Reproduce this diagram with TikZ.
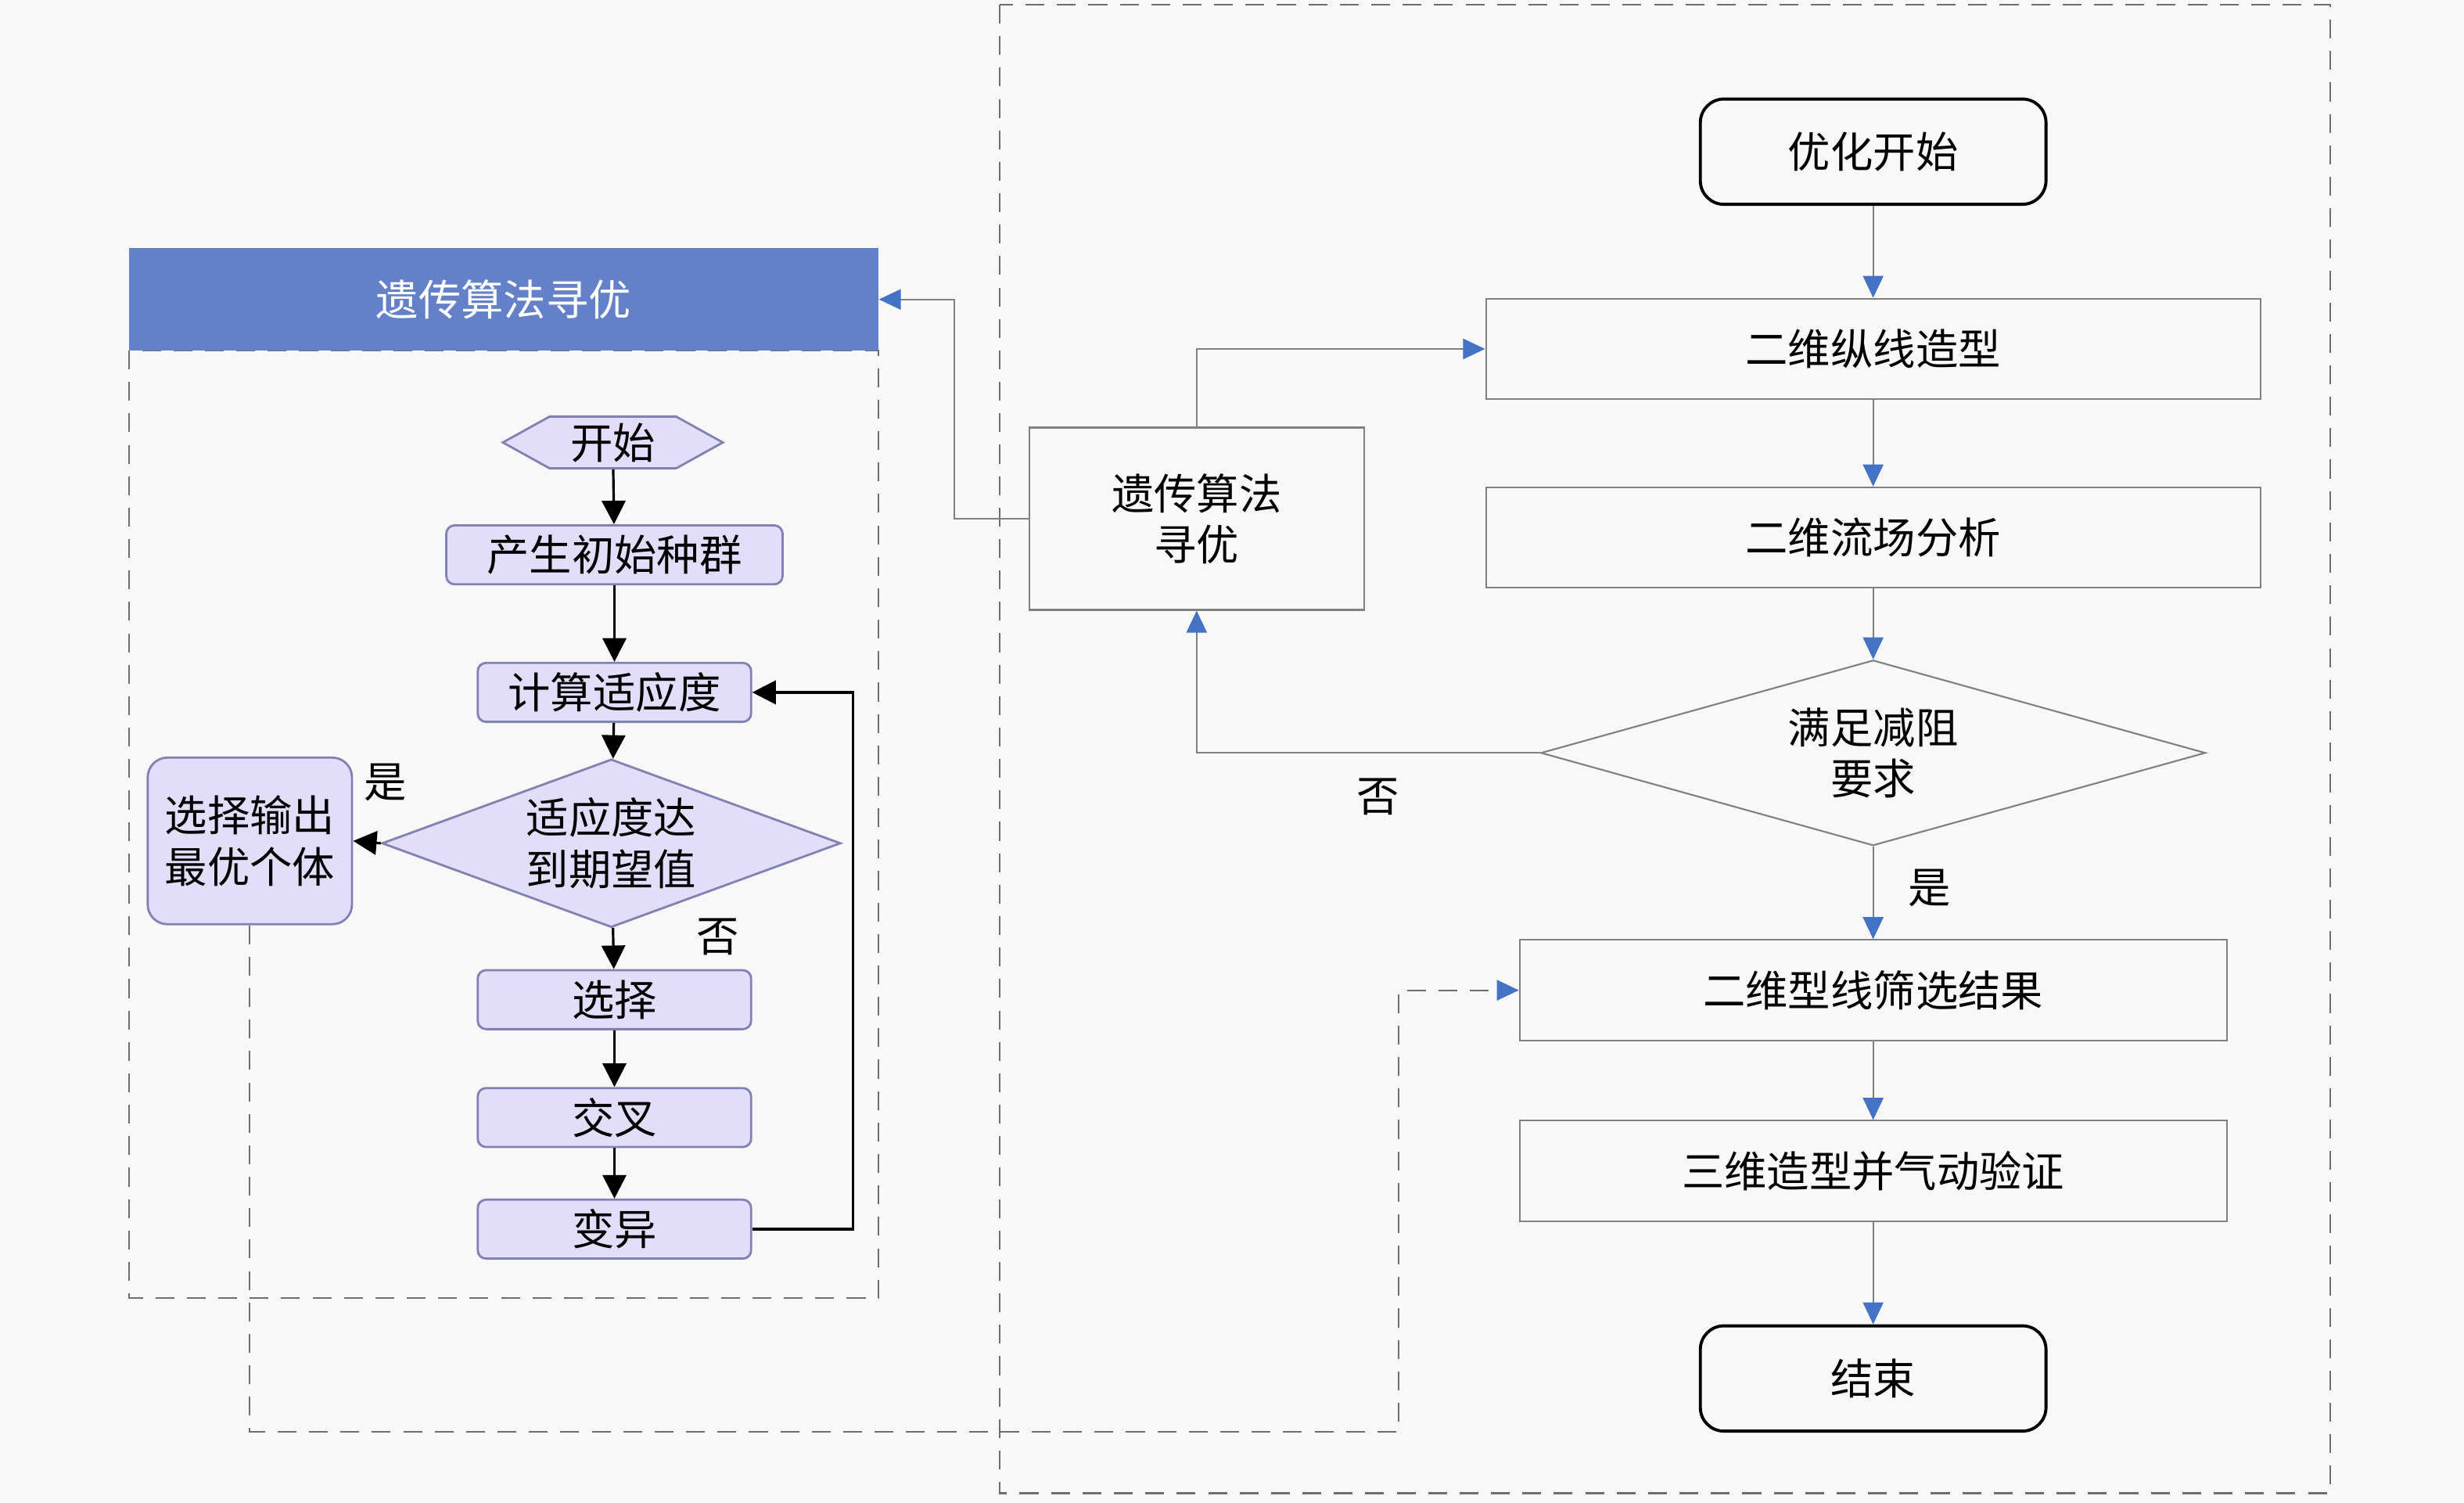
\documentclass[tikz,border=0pt]{standalone}
\usepackage{fontspec}
\setmainfont{Noto Sans CJK SC}
\usetikzlibrary{shapes.geometric,shapes.symbols,arrows.meta}
\definecolor{bgcol}{RGB}{248,248,248}
\definecolor{hdrblue}{RGB}{99,128,200}
\definecolor{lav}{RGB}{226,222,250}
\definecolor{lavline}{RGB}{130,130,178}
\definecolor{arrblue}{RGB}{68,114,196}
\definecolor{grayline}{RGB}{128,128,128}
\definecolor{dashgray}{RGB}{110,110,110}

\begin{document}
\begin{tikzpicture}[x=0.02cm,y=-0.02cm,
  font=\fontsize{15.4}{18.5}\selectfont,
  frame/.style={draw=dashgray,line width=0.6pt,dash pattern=on 0.24cm off 0.16cm},
  gabox/.style={draw=lavline,fill=lav,line width=0.8pt,rounded corners=3pt,inner sep=0pt,
    minimum width=3.48cm,minimum height=0.75cm},
  gadia/.style={draw=lavline,fill=lav,line width=0.8pt,shape=diamond,aspect=2.73,inner sep=0pt,align=center,
    minimum width=5.84cm,minimum height=2.14cm},
  flowbox/.style={draw=grayline,line width=0.6pt,inner sep=0pt,minimum width=9.86cm,minimum height=1.28cm},
  flowdia/.style={draw=grayline,line width=0.6pt,shape=diamond,aspect=3.58,inner sep=0pt,align=center,
    minimum width=8.46cm,minimum height=2.36cm},
  term/.style={draw=black,line width=1.1pt,rounded corners=0.3cm,inner sep=0pt,
    minimum width=4.4cm,minimum height=1.34cm},
  blk/.style={draw=black,line width=0.9pt,-{Triangle[length=0.3cm,width=0.3cm]}},
  bluearr/.style={draw=grayline,line width=0.6pt,-{Triangle[length=0.28cm,width=0.26cm,color=arrblue]}}]
\useasboundingbox (0,0) rectangle (1568,956);
\fill[bgcol] (0,0) rectangle (1568,956);

% left part: genetic algorithm
\draw[frame] (82,223) rectangle (559,826);
\node[fill=hdrblue,text=white,inner sep=0pt,minimum width=9.54cm,minimum height=1.3cm] (hdr) at (320.5,190.5) {遗传算法寻优};
\node[draw=lavline,fill=lav,line width=0.8pt,shape=signal,signal to=west and east,signal pointer angle=58,
  inner sep=0pt,minimum width=2.8cm,minimum height=0.66cm] (s0) at (390,281.5) {开始};
\node[gabox,minimum width=4.28cm] (g1) at (391,353) {产生初始种群};
\node[gabox] (g2) at (391,440.5) {计算适应度};
\node[gadia] (g3) at (389,536.5) {适应度达\\到期望值};
\node[gabox,minimum width=2.6cm,minimum height=2.12cm,rounded corners=0.25cm,align=center] (best) at (159,535) {选择输出\\最优个体};
\node[gabox] (g4) at (391,636) {选择};
\node[gabox] (g5) at (391,711) {交叉};
\node[gabox] (g6) at (391,782) {变异};
\node (yes1) at (245,498) {是};
\node (no1) at (457,596) {否};

\draw[blk] (s0) -- (g1);
\draw[blk] (g1) -- (g2);
\draw[blk] (g2) -- (g3);
\draw[blk] (g3) -- (g4);
\draw[blk] (g4) -- (g5);
\draw[blk] (g5) -- (g6);
\draw[blk] (g3.west) -- (best.east);
\draw[blk] (g6.east) -- ++(64,0) |- (g2.east);

% right part: optimisation flow
\draw[frame] (636,3) rectangle (1483,950);
\node[term] (r0) at (1192,96.5) {优化开始};
\node[flowbox] (r1) at (1192,222) {二维纵线造型};
\node[flowbox] (r2) at (1192,342) {二维流场分析};
\node[flowdia] (r3) at (1192,479) {满足减阻\\要求};
\node[flowbox,minimum width=9cm] (r4) at (1192,630) {二维型线筛选结果};
\node[flowbox,minimum width=9cm] (r5) at (1192,745) {三维造型并气动验证};
\node[term] (r6) at (1192,877) {结束};
\node[flowbox,minimum width=4.26cm,minimum height=2.32cm,align=center] (ga) at (761.5,330) {遗传算法\\寻优};
\node (yes2) at (1228,565) {是};
\node (no2) at (877,507) {否};
\coordinate (c1) at (890,911);

\draw[bluearr] (r0) -- (r1);
\draw[bluearr] (r1) -- (r2);
\draw[bluearr] (r2) -- (r3);
\draw[bluearr] (r3) -- (r4);
\draw[bluearr] (r4) -- (r5);
\draw[bluearr] (r5) -- (r6);
\draw[bluearr] (r3.west) -| (ga.south);
\draw[bluearr] (ga.north) |- (r1.west);
\draw[bluearr] (ga.west) -- ++(-47,0) |- (hdr.east);
\draw[frame,-{Triangle[length=0.28cm,width=0.26cm,color=arrblue]}] (best.south) |- (c1) |- (r4.west);
\end{tikzpicture}
\end{document}
